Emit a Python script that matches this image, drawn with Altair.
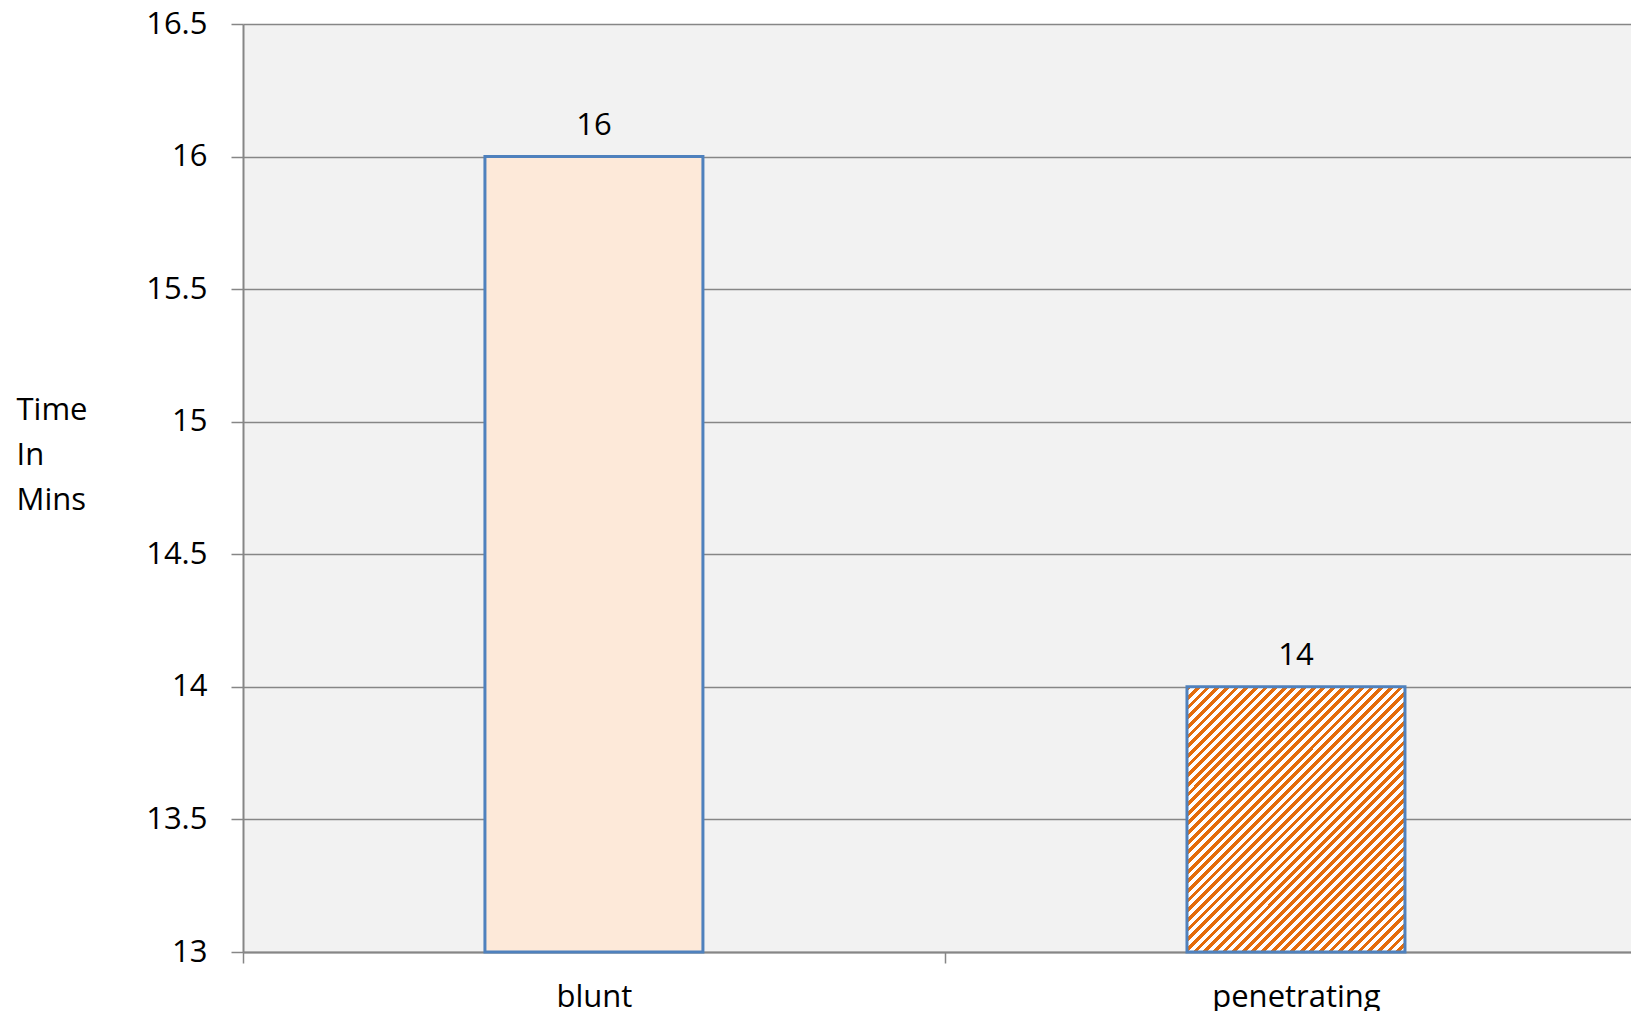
import altair as alt
import pandas as pd

categories = ["blunt", "penetrating"]
values = [16, 14]
y_ticks = [13, 13.5, 14, 14.5, 15, 15.5, 16, 16.5]

df = pd.DataFrame({"cat": categories, "value": values})

FONT = "Open Sans"
GRAY = "#868686"
BLUE = "#4F81BD"
PEACH = "#FDE9D9"
ORANGE = "#E46C0A"

# diagonal hatch "/" made from a hard-stop linear gradient
n_periods = 56
stops = []
for i in range(n_periods):
    a = i / n_periods
    b = (i + 0.5) / n_periods
    c = (i + 1) / n_periods
    stops += [
        {"offset": a, "color": ORANGE},
        {"offset": b, "color": ORANGE},
        {"offset": b, "color": "#FFFFFF"},
        {"offset": c, "color": "#FFFFFF"},
    ]
hatch = {"gradient": "linear", "x1": 0, "y1": 0, "x2": 1, "y2": 1.216, "stops": stops}

x_enc = alt.X(
    "cat:N",
    sort=categories,
    scale=alt.Scale(paddingInner=0.6895, paddingOuter=0.3333, align=0.517),
    axis=alt.Axis(
        title=None,
        labelFont=FONT,
        labelFontSize=31,
        labelColor="black",
        labelPadding=19,
        labelAngle=0,
        tickOffset=-351,
        labelOffset=351,
        tickSize=11,
        tickColor=GRAY,
        tickWidth=1.5,
        domainColor=GRAY,
        domainWidth=2,
        grid=False,
    ),
)
y_enc = alt.Y(
    "value:Q",
    scale=alt.Scale(domain=[13, 16.5], nice=False, zero=False),
    axis=alt.Axis(
        title=["Time", "In", "Mins"],
        titleAngle=0,
        titleAlign="left",
        titleBaseline="alphabetic",
        titleX=-227,
        titleY=395,
        titleLineHeight=45,
        titleFont=FONT,
        titleFontSize=31,
        titleFontWeight="normal",
        titleColor="black",
        values=y_ticks,
        format="~r",
        labelFont=FONT,
        labelFontSize=31,
        labelColor="black",
        labelPadding=24,
        tickSize=12,
        tickColor=GRAY,
        tickWidth=1.5,
        domainColor=GRAY,
        domainWidth=2,
        gridColor=GRAY,
        gridWidth=1.5,
    ),
)

base = alt.Chart(df)

blunt = base.transform_filter(alt.datum.cat == "blunt").mark_bar(
    fill=PEACH, stroke=BLUE, strokeWidth=3
).encode(x=x_enc, y=y_enc, y2=alt.Y2(datum=13))

pen = base.transform_filter(alt.datum.cat == "penetrating").mark_bar(
    fill=hatch, stroke=BLUE, strokeWidth=3
).encode(x=x_enc, y=y_enc, y2=alt.Y2(datum=13))

labels = base.mark_text(
    font=FONT, fontSize=31, color="black", baseline="alphabetic", dy=-22
).encode(x=x_enc, y=y_enc, text=alt.Text("value:Q"))

chart = (
    alt.layer(blunt, pen, labels)
    .properties(
        width=1388,
        height=928,
        autosize=alt.AutoSizeParams(type="none"),
        padding={"left": 235, "top": 16, "right": 0, "bottom": 59},
        background="white",
    )
    .configure_view(fill="#F2F2F2", strokeOpacity=0)
)

chart.save("out.html", embed_options={"renderer": "svg", "actions": False})
